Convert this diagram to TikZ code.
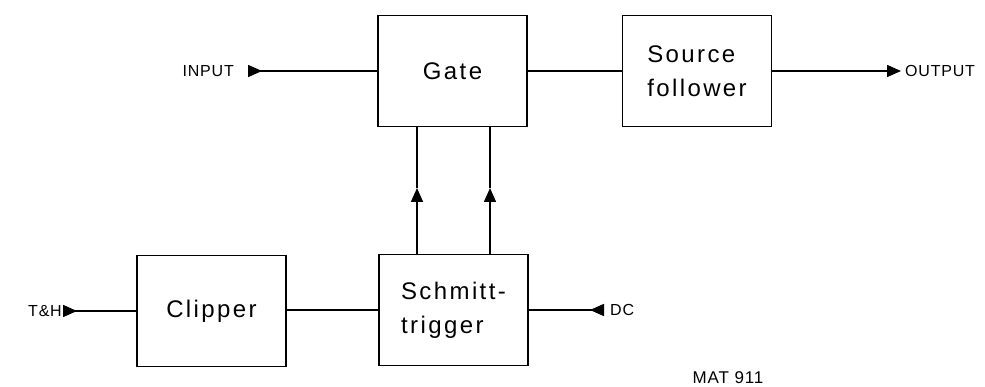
\documentclass[tikz,border=0pt]{standalone}
\usepackage{fontspec}
\setmainfont[LetterSpace=10]{Liberation Sans}
\newfontfamily\lblfont[LetterSpace=5]{Liberation Sans}
\usetikzlibrary{arrows.meta,positioning}
\tikzset{
  blk/.style={draw, line width=1.5pt, minimum width=149pt, minimum height=111pt, inner sep=0pt, font=\fontsize{24}{34}\selectfont, align=left},
  wire/.style={line width=1.5pt},
  lbl/.style={font=\lblfont\fontsize{16}{18}\selectfont, inner sep=0pt}
}
\begin{document}
\begin{tikzpicture}[x=1pt,y=-1pt]
\useasboundingbox (0,0) rectangle (985,387);
\node[blk] (gate) at (452.5,71) {Gate};
\node[blk] (src) at (697,71) {Source\\follower};
\node[blk] (sch) at (453.5,310) {Schmitt-\\trigger};
\node[blk] (clip) at (211.5,311) {Clipper};
\node[lbl, anchor=east] (inp) at (234,71) {INPUT};
\node[lbl, anchor=east] (th) at (62,311) {T\&H};
\node[lbl, anchor=west] (dc) at (610,310) {DC};
\node[lbl, anchor=west] (out) at (905,71) {OUTPUT};
\node[lbl, anchor=center, font=\lblfont\fontsize{17}{19}\selectfont] (mat) at (728,378) {MAT 911};
\coordinate (inT) at (248,71);
\coordinate (thT) at (63,311);
\coordinate (dcT) at (604,310);
\coordinate (outT) at (901,71);
\coordinate (m1) at (417,188);
\coordinate (m2) at (490,188);
\draw[wire, {Triangle[reversed,length=14pt,width=12pt]}-] (inT) -- (gate.west);
\draw[wire] (gate.east) -- (src.west);
\draw[wire, -{Triangle[length=14pt,width=12pt]}] (src.east) -- (outT);
\draw[wire, {Triangle[reversed,length=14pt,width=12pt]}-] (thT) -- (clip.west |- thT);
\draw[wire] (clip.east |- sch.west) -- (sch.west);
\draw[wire, -{Triangle[reversed,length=14pt,width=12pt]}] (sch.east) -- (dcT);
\draw[wire, -{Triangle[length=14pt,width=12pt]}] (sch.north -| m1) -- (m1);
\draw[wire] (m1) -- (gate.south -| m1);
\draw[wire, -{Triangle[length=14pt,width=12pt]}] (sch.north -| m2) -- (m2);
\draw[wire] (m2) -- (gate.south -| m2);
\end{tikzpicture}
\end{document}
